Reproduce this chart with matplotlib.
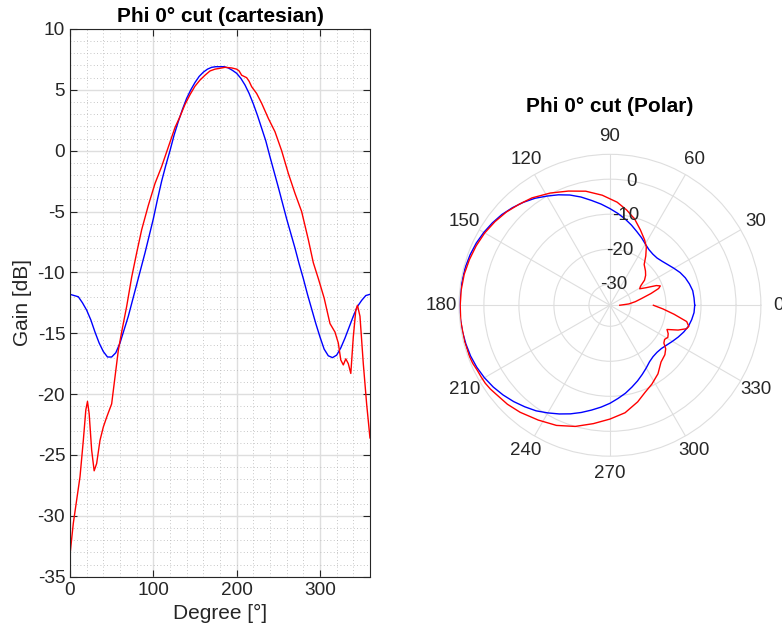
import numpy as np
import matplotlib.pyplot as plt
from matplotlib.ticker import MultipleLocator

plt.rcParams["font.family"] = ["Liberation Sans", "DejaVu Sans"]
plt.rcParams["axes.unicode_minus"] = False

# simulated pattern, sampled every 5 degrees
blue_deg = list(range(0, 361, 5))
blue_db = [
    -11.8, -11.9, -12.0, -12.5, -13.1, -13.9, -14.9, -15.8, -16.5, -16.95,
    -16.95, -16.6, -15.8, -14.7, -13.6, -12.3, -11.0, -9.7, -8.4, -7.0,
    -5.6, -4.0, -2.5, -1.2, 0.0, 1.3, 2.4, 3.4, 4.3, 5.0,
    5.6, 6.1, 6.45, 6.7, 6.85, 6.9, 6.9, 6.9, 6.8, 6.6,
    6.36, 5.95, 5.4, 4.7, 3.85, 2.9, 1.85, 0.8, -0.5, -1.75,
    -3.0, -4.3, -5.6, -6.8, -8.0, -9.3, -10.5, -11.8, -13.0, -14.2,
    -15.3, -16.3, -16.85, -17.0, -16.8, -16.2, -15.4, -14.5, -13.6, -12.8,
    -12.3, -11.9, -11.8,
]

# measured pattern
red_deg = [
    0, 4, 8, 12, 16, 19, 21, 23, 26, 29, 32, 36, 40, 44, 50, 54, 58, 62, 68,
    74, 80, 86, 94, 102, 110, 118, 126, 132, 138, 144, 150, 156, 162, 168,
    174, 180, 186, 194, 200, 203, 206, 209, 212, 215, 218, 224, 230, 238,
    246, 254, 262, 270, 278, 286, 292, 298, 305, 312, 318, 322, 325, 328,
    331, 334, 337, 340, 343, 345, 348, 352, 356, 360,
]
red_db = [
    -33.2, -30.6, -28.7, -26.8, -23.8, -21.3, -20.6, -21.6, -24.6, -26.3,
    -25.7, -23.8, -22.7, -21.9, -20.8, -18.6, -16.4, -14.9, -12.8, -10.4,
    -8.4, -6.5, -4.5, -2.7, -1.3, 0.3, 1.9, 2.8, 3.8, 4.6,
    5.3, 5.8, 6.2, 6.55, 6.7, 6.77, 6.85, 6.8, 6.7, 6.55,
    6.2, 6.1, 6.0, 5.7, 5.26, 4.7, 3.9, 2.66, 1.56, 0.0,
    -1.86, -3.5, -5.0, -7.3, -9.2, -10.5, -12.1, -14.2, -14.9, -15.8,
    -17.2, -17.6, -17.1, -17.5, -18.3, -15.3, -13.1, -12.7, -13.6, -17.5,
    -20.8, -23.6,
]

r_ticks = [-30, -20, -10, 0]
theta_ticks = list(range(0, 360, 30))

dark = "#262626"
grid_c = "#dedede"

fig = plt.figure(figsize=(7.82, 6.44), dpi=100)

# cartesian
ax = fig.add_axes([0.0895, 0.1045, 0.3836, 0.8505])
ax.plot(blue_deg, blue_db, color="blue", linewidth=1.0)
ax.plot(red_deg, red_db, color="red", linewidth=1.0)
ax.set_xlim(0, 360)
ax.set_ylim(-35, 10)
ax.xaxis.set_major_locator(MultipleLocator(100))
ax.xaxis.set_minor_locator(MultipleLocator(20))
ax.yaxis.set_major_locator(MultipleLocator(5))
ax.yaxis.set_minor_locator(MultipleLocator(1))
ax.grid(True, which="major", color=grid_c, linewidth=1.0)
ax.grid(True, which="minor", color="#b4b4b4", linestyle=(0, (1, 3)), linewidth=0.6)
ax.set_axisbelow(True)
ax.tick_params(which="major", direction="in", top=True, right=True,
               length=5, color=dark, labelcolor=dark, labelsize=13.7)
ax.tick_params(which="minor", length=0)
for s in ax.spines.values():
    s.set_color(dark)
ax.set_xlabel("Degree [°]", fontsize=15, color=dark)
ax.set_ylabel("Gain [dB]", fontsize=15, color=dark)
ax.set_title("Phi 0° cut (cartesian)", fontsize=15, fontweight="bold", pad=5)

# polar
pax = fig.add_axes([0.587, 0.2915, 0.386, 0.469], projection="polar")
pax.plot(np.deg2rad(blue_deg), blue_db, color="blue", linewidth=1.0)
pax.plot(np.deg2rad(red_deg), red_db, color="red", linewidth=1.0)
pax.set_rlim(-36, 7.1)
pax.set_rticks(r_ticks)
pax.set_yticklabels([])
pax.set_thetagrids(theta_ticks, labels=[str(t) for t in theta_ticks])
pax.grid(True, color=grid_c, linewidth=0.8)
pax.spines["polar"].set_color(grid_c)
pax.tick_params(axis="x", labelsize=13.5, labelcolor=dark, pad=2)
# radial labels centred on their rings along 80 deg, like MATLAB
for r in r_ticks:
    pax.text(np.deg2rad(80), r, str(r), ha="center", va="center",
             fontsize=13.5, color=dark)
pax.set_title("Phi 0° cut (Polar)", fontsize=15, fontweight="bold", pad=12)

fig.savefig("out.png", dpi=100)
